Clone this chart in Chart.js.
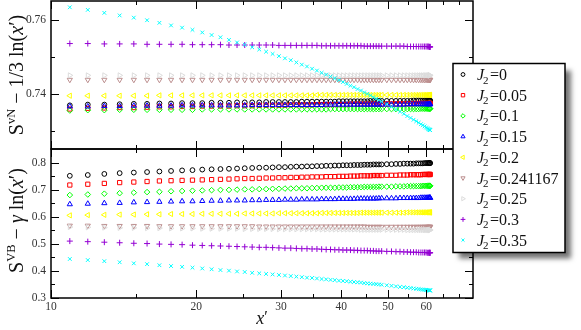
<!DOCTYPE html>
<html>
<head>
<meta charset="utf-8">
<script src="https://cdn.jsdelivr.net/npm/chart.js@4.4.1/dist/chart.umd.min.js"></script>
<style>
  html, body { margin: 0; padding: 0; background: #fff; }
  #wrap { position: relative; width: 581px; height: 330px; overflow: hidden; }
  #wrap canvas { position: absolute; left: 0; }
</style>
</head>
<body>
<div id="wrap">
  <canvas id="topChart" width="581" height="150" style="top:0"></canvas>
  <canvas id="botChart" width="581" height="182" style="top:148px"></canvas>
  <canvas id="legendCanvas" width="581" height="330" style="top:0"></canvas>
</div>
<script>
// x' positions (chord lengths), shared by every series
const xPos = [10.94, 11.92, 12.90, 13.88, 14.85, 15.82, 16.78, 17.74, 18.70, 19.65,
  20.59, 21.53, 22.46, 23.39, 24.31, 25.22, 26.13, 27.03, 27.93, 28.81,
  29.69, 30.56, 31.42, 32.27, 33.12, 33.95, 34.78, 35.60, 36.41, 37.20,
  37.99, 38.77, 39.54, 40.30, 41.04, 41.78, 42.50, 43.22, 43.92, 44.61,
  45.29, 45.95, 46.61, 47.24, 47.86, 48.49, 49.69, 50.82, 51.92, 52.93,
  53.90, 54.81, 55.67, 56.46, 57.20, 57.87, 58.48, 59.03, 59.52, 59.94,
  60.30, 60.59, 60.82, 60.98, 61.08, 61.12];

const couplings = ['0', '0.05', '0.1', '0.15', '0.2', '0.241167', '0.25', '0.3', '0.35'];

// top panel: S^vN - 1/3 ln(x')
const vnJ0 = [.7368, .7370, .7370, .7371, .7372, .7372, .7373, .7373, .7374, .7374,
  .7374, .7375, .7375, .7375, .7376, .7376, .7376, .7376, .7377, .7377,
  .7377, .7377, .7377, .7377, .7378, .7378, .7378, .7378, .7378, .7378,
  .7378, .7378, .7379, .7379, .7379, .7379, .7379, .7379, .7379, .7379,
  .7379, .7380, .7380, .7380, .7380, .7380, .7380, .7380, .7380, .7380,
  .7380, .7380, .7380, .7381, .7381, .7381, .7381, .7381, .7381, .7381,
  .7381, .7381, .7381, .7381, .7381, .7381];
const vnJ005 = [.7358, .7360, .7361, .7362, .7362, .7363, .7364, .7364, .7365, .7365,
  .7366, .7366, .7366, .7366, .7367, .7367, .7367, .7368, .7368, .7368,
  .7368, .7368, .7369, .7369, .7369, .7369, .7369, .7370, .7370, .7370,
  .7370, .7370, .7370, .7370, .7370, .7371, .7371, .7371, .7371, .7371,
  .7371, .7371, .7371, .7371, .7371, .7371, .7372, .7372, .7372, .7372,
  .7372, .7372, .7372, .7372, .7373, .7373, .7373, .7373, .7373, .7373,
  .7373, .7373, .7373, .7373, .7373, .7373];
const vnJ01 = [.7354, .7355, .7355, .7356, .7356, .7356, .7356, .7356, .7356, .7356,
  .7357, .7357, .7357, .7357, .7357, .7357, .7357, .7357, .7357, .7357,
  .7357, .7357, .7357, .7357, .7357, .7357, .7357, .7357, .7357, .7357,
  .7358, .7358, .7358, .7358, .7358, .7358, .7358, .7358, .7358, .7358,
  .7358, .7358, .7358, .7358, .7358, .7358, .7358, .7358, .7358, .7358,
  .7358, .7358, .7358, .7358, .7358, .7358, .7359, .7359, .7359, .7359,
  .7359, .7359, .7359, .7359, .7359, .7359];
const vnJ015 = [.7365, .7365, .7366, .7366, .7367, .7367, .7367, .7367, .7368, .7368,
  .7368, .7368, .7368, .7368, .7368, .7368, .7369, .7369, .7369, .7369,
  .7369, .7369, .7369, .7369, .7369, .7369, .7369, .7369, .7369, .7370,
  .7370, .7370, .7370, .7370, .7370, .7370, .7370, .7370, .7370, .7370,
  .7370, .7370, .7370, .7370, .7370, .7370, .7370, .7370, .7370, .7370,
  .7370, .7371, .7371, .7371, .7371, .7371, .7371, .7371, .7371, .7371,
  .7371, .7371, .7371, .7371, .7371, .7371];
const vnJ02 = [.7394, .7394, .7394, .7394, .7394, .7394, .7395, .7395, .7395, .7395,
  .7395, .7395, .7395, .7395, .7395, .7395, .7395, .7395, .7395, .7395,
  .7395, .7395, .7395, .7395, .7395, .7395, .7395, .7396, .7396, .7396,
  .7396, .7396, .7396, .7396, .7396, .7396, .7396, .7396, .7396, .7396,
  .7396, .7396, .7396, .7396, .7396, .7396, .7396, .7396, .7396, .7396,
  .7396, .7396, .7396, .7396, .7396, .7396, .7396, .7396, .7396, .7396,
  .7396, .7396, .7396, .7396, .7396, .7396];
const vnJ0241 = [.7437, .7437, .7437, .7437, .7437, .7437, .7437, .7437, .7437, .7437,
  .7437, .7437, .7437, .7437, .7437, .7437, .7437, .7437, .7437, .7437,
  .7437, .7437, .7437, .7437, .7437, .7437, .7437, .7437, .7437, .7437,
  .7437, .7437, .7437, .7437, .7437, .7437, .7437, .7437, .7437, .7437,
  .7437, .7437, .7437, .7437, .7437, .7437, .7437, .7437, .7437, .7437,
  .7437, .7437, .7437, .7437, .7437, .7437, .7437, .7437, .7437, .7437,
  .7437, .7437, .7437, .7437, .7437, .7437];
const vnJ025 = [.7449, .7449, .7449, .7449, .7449, .7449, .7449, .7449, .7449, .7449,
  .7449, .7449, .7449, .7449, .7449, .7449, .7449, .7449, .7449, .7449,
  .7449, .7449, .7449, .7449, .7449, .7449, .7449, .7449, .7449, .7449,
  .7449, .7449, .7449, .7449, .7449, .7449, .7449, .7449, .7449, .7449,
  .7449, .7449, .7449, .7449, .7449, .7449, .7449, .7449, .7449, .7449,
  .7449, .7449, .7449, .7449, .7449, .7449, .7449, .7449, .7449, .7449,
  .7449, .7449, .7449, .7449, .7449, .7449];
const vnJ03 = [.7535, .7535, .7534, .7534, .7534, .7533, .7533, .7533, .7533, .7532,
  .7532, .7532, .7532, .7531, .7531, .7531, .7531, .7531, .7531, .7531,
  .7530, .7530, .7530, .7530, .7530, .7530, .7530, .7530, .7529, .7529,
  .7529, .7529, .7529, .7529, .7529, .7529, .7529, .7529, .7529, .7528,
  .7528, .7528, .7528, .7528, .7528, .7528, .7528, .7528, .7528, .7528,
  .7528, .7527, .7527, .7527, .7527, .7527, .7527, .7527, .7527, .7527,
  .7527, .7527, .7526, .7526, .7526, .7526];
const vnJ035 = [.7633, .7626, .7618, .7611, .7605, .7598, .7591, .7584, .7578, .7572,
  .7565, .7558, .7552, .7545, .7538, .7532, .7525, .7519, .7513, .7507,
  .7501, .7495, .7490, .7484, .7478, .7473, .7467, .7462, .7456, .7451,
  .7446, .7441, .7436, .7431, .7426, .7421, .7417, .7412, .7408, .7403,
  .7399, .7395, .7390, .7386, .7382, .7378, .7371, .7364, .7357, .7351,
  .7345, .7339, .7334, .7329, .7325, .7321, .7317, .7314, .7311, .7308,
  .7306, .7304, .7303, .7302, .7301, .7301];

// bottom panel: S^VB - gamma ln(x')
const vbJ0 = [.751, .754, .758, .761, .763, .765, .767, .769, .771, .772,
  .774, .775, .776, .777, .778, .779, .780, .781, .781, .782,
  .783, .783, .784, .785, .785, .786, .786, .787, .787, .788,
  .788, .789, .789, .790, .790, .790, .791, .791, .791, .792,
  .792, .792, .793, .793, .793, .793, .794, .794, .795, .795,
  .796, .796, .796, .796, .797, .797, .797, .797, .798, .798,
  .798, .798, .798, .798, .798, .798];
const vbJ005 = [.717, .720, .723, .726, .728, .730, .732, .733, .734, .735,
  .736, .737, .738, .739, .740, .741, .741, .742, .743, .743,
  .744, .744, .745, .745, .746, .746, .747, .747, .747, .748,
  .748, .748, .749, .749, .749, .750, .750, .750, .751, .751,
  .751, .751, .752, .752, .752, .752, .753, .753, .753, .754,
  .754, .754, .755, .755, .755, .755, .755, .756, .756, .756,
  .756, .756, .756, .756, .756, .756];
const vbJ01 = [.680, .682, .685, .687, .689, .691, .692, .694, .695, .696,
  .697, .698, .699, .699, .700, .701, .701, .702, .702, .703,
  .703, .704, .704, .705, .705, .705, .706, .706, .707, .707,
  .707, .707, .708, .708, .708, .709, .709, .709, .709, .710,
  .710, .710, .710, .710, .711, .711, .711, .711, .712, .712,
  .712, .713, .713, .713, .713, .713, .713, .714, .714, .714,
  .714, .714, .714, .714, .714, .714];
const vbJ015 = [.646, .648, .650, .651, .653, .654, .655, .656, .657, .657,
  .658, .659, .659, .660, .660, .660, .661, .661, .662, .662,
  .662, .663, .663, .663, .664, .664, .664, .664, .665, .665,
  .665, .665, .666, .666, .666, .666, .666, .667, .667, .667,
  .667, .667, .667, .667, .668, .668, .668, .668, .668, .669,
  .669, .669, .669, .669, .669, .669, .670, .670, .670, .670,
  .670, .670, .670, .670, .670, .670];
const vbJ02 = [.605, .606, .607, .608, .608, .609, .609, .610, .610, .610,
  .611, .611, .611, .611, .611, .612, .612, .612, .612, .612,
  .613, .613, .613, .613, .613, .613, .613, .613, .614, .614,
  .614, .614, .614, .614, .614, .614, .614, .614, .615, .615,
  .615, .615, .615, .615, .615, .615, .615, .615, .615, .615,
  .615, .616, .616, .616, .616, .616, .616, .616, .616, .616,
  .616, .616, .616, .616, .616, .616];
const vbJ0241 = [.567, .567, .566, .566, .566, .566, .565, .565, .565, .565,
  .565, .565, .565, .565, .565, .565, .565, .564, .564, .564,
  .564, .564, .564, .564, .564, .564, .564, .564, .564, .564,
  .564, .564, .564, .564, .564, .564, .564, .564, .564, .564,
  .563, .563, .563, .563, .563, .563, .563, .563, .563, .563,
  .563, .563, .563, .563, .563, .563, .563, .563, .563, .563,
  .563, .563, .563, .563, .563, .563];
const vbJ025 = [.562, .561, .560, .559, .559, .558, .558, .557, .557, .557,
  .556, .556, .556, .556, .556, .555, .555, .555, .555, .555,
  .554, .554, .554, .554, .554, .554, .554, .554, .553, .553,
  .553, .553, .553, .553, .553, .553, .553, .553, .552, .552,
  .552, .552, .552, .552, .552, .552, .552, .552, .552, .552,
  .552, .551, .551, .551, .551, .551, .551, .551, .551, .551,
  .551, .551, .551, .551, .551, .551];
const vbJ03 = [.510, .508, .506, .504, .502, .501, .499, .498, .497, .495,
  .494, .493, .492, .491, .490, .489, .488, .487, .487, .486,
  .485, .484, .484, .483, .482, .482, .481, .481, .480, .479,
  .479, .478, .478, .477, .477, .477, .476, .476, .475, .475,
  .475, .474, .474, .473, .473, .473, .472, .472, .471, .471,
  .470, .470, .469, .469, .469, .468, .468, .468, .468, .468,
  .467, .467, .467, .467, .467, .467];
const vbJ035 = [.444, .440, .436, .432, .428, .425, .421, .418, .415, .412,
  .409, .406, .403, .401, .398, .396, .393, .391, .389, .387,
  .385, .383, .381, .379, .377, .375, .374, .372, .370, .369,
  .367, .366, .364, .363, .362, .360, .359, .358, .357, .355,
  .354, .353, .352, .351, .350, .349, .347, .345, .343, .341,
  .340, .338, .337, .335, .334, .333, .332, .331, .330, .330,
  .329, .329, .328, .328, .328, .328];

// ticks
const xTicks = [10, 20, 30, 40, 50, 60];
const xMinorTicks = [15, 25, 35, 45, 55, 65, 70];
const vnTicks = [0.74, 0.76];
const vnMinorTicks = [0.73, 0.75];
const vbTicks = [0.3, 0.4, 0.5, 0.6, 0.7, 0.8];
const vbMinorTicks = [0.35, 0.45, 0.55, 0.65, 0.75];

// marker looks (xmgrace palette)
const colors = ['#000000', '#ff0000', '#00ff00', '#0000ff', '#ffff00', '#bc8f8f', '#dcdcdc', '#9400d3', '#00ffff'];
const shapes = ['circle', 'rect', 'rectRot', 'triangle', 'triangle', 'triangle', 'triangle', 'cross', 'crossRot'];
const turns = [0, 0, 0, 0, 270, 180, 90, 0, 0];
const sizes = [2.4, 3, 2.8, 3, 3, 3, 3, 3, 2.6];

const serif = "'Liberation Serif', 'DejaVu Serif', serif";

function makeDatasets(series) {
  return series.map((vals, i) => ({
    label: 'J2=' + couplings[i],
    data: xPos.map((x, k) => ({ x: x, y: vals[k] })),
    showLine: false,
    pointStyle: shapes[i],
    rotation: turns[i],
    pointRadius: sizes[i],
    pointBorderWidth: 1,
    pointBorderColor: colors[i],
    pointBackgroundColor: 'rgba(0,0,0,0)',
    borderColor: colors[i],
    order: series.length - i
  }));
}

// frame, inward ticks, tick labels and axis titles
const decor = {
  id: 'decor',
  afterDraw(chart, args, opts) {
    const ctx = chart.ctx, a = chart.chartArea;
    const xs = chart.scales.x, ys = chart.scales.y;
    ctx.save();
    ctx.strokeStyle = '#000';
    ctx.lineWidth = 1;
    ctx.beginPath();
    function xTick(v, len) {
      const px = Math.round(xs.getPixelForValue(v)) + 0.5;
      ctx.moveTo(px, a.bottom); ctx.lineTo(px, a.bottom - len);
      ctx.moveTo(px, a.top); ctx.lineTo(px, a.top + len);
    }
    function yTick(v, len) {
      const py = Math.round(ys.getPixelForValue(v)) + 0.5;
      ctx.moveTo(a.left, py); ctx.lineTo(a.left + len, py);
      ctx.moveTo(a.right, py); ctx.lineTo(a.right - len, py);
    }
    xTicks.forEach(v => xTick(v, 8));
    xMinorTicks.forEach(v => xTick(v, 4));
    opts.major.forEach(v => yTick(v, 8));
    opts.minor.forEach(v => yTick(v, 4));
    ctx.stroke();
    ctx.lineWidth = 1.5;
    ctx.strokeRect(a.left, a.top, a.right - a.left, a.bottom - a.top);

    ctx.fillStyle = '#333';
    ctx.font = '11.5px ' + serif;
    ctx.textAlign = 'right';
    ctx.textBaseline = 'middle';
    opts.major.forEach(v => ctx.fillText(v.toFixed(opts.digits), a.left - 5, ys.getPixelForValue(v)));
    if (opts.xLabels) {
      ctx.textAlign = 'center';
      ctx.textBaseline = 'top';
      xTicks.forEach(v => ctx.fillText(String(v), xs.getPixelForValue(v), a.bottom + 3));
    }
    drawRich(ctx, opts.title, 23, (a.top + a.bottom) / 2 + opts.titleShift, true);
    if (opts.xTitle) drawRich(ctx, opts.xTitle, 262, 176, false);
    ctx.restore();
  }
};

function drawRich(ctx, parts, cx, cy, vertical) {
  ctx.save();
  ctx.translate(cx, cy);
  if (vertical) ctx.rotate(-Math.PI / 2);
  let total = 0;
  parts.forEach(p => { ctx.font = p.font; p.w = ctx.measureText(p.text).width; total += p.w; });
  let x = -total / 2;
  ctx.fillStyle = '#111';
  ctx.textBaseline = 'alphabetic';
  ctx.textAlign = 'left';
  parts.forEach(p => { ctx.font = p.font; ctx.fillText(p.text, x, p.dy || 0); x += p.w; });
  ctx.restore();
}

function panelOptions(yMin, yMax, bottomRoom, decorOpts) {
  return {
    responsive: false,
    animation: false,
    devicePixelRatio: 1,
    events: [],
    layout: { autoPadding: false, padding: { left: 51, right: 108, top: 1, bottom: bottomRoom } },
    plugins: { legend: { display: false }, tooltip: { enabled: false }, decor: decorOpts },
    scales: {
      x: { type: 'logarithmic', min: 10, max: 75, bounds: 'data', display: false },
      y: { type: 'linear', min: yMin, max: yMax, display: false }
    }
  };
}

const big = '20px ' + serif, small = '12.5px ' + serif, ital = 'italic 20px ' + serif;

let topChart = new Chart(document.getElementById('topChart'), {
  type: 'scatter',
  data: { datasets: makeDatasets([vnJ0, vnJ005, vnJ01, vnJ015, vnJ02, vnJ0241, vnJ025, vnJ03, vnJ035]) },
  options: panelOptions(0.725, 0.765, 1, {
    major: vnTicks, minor: vnMinorTicks, digits: 2, titleShift: 0,
    title: [
      { text: 'S', font: big }, { text: 'vN', font: small, dy: -8 },
      { text: ' \u2212 1/3 ln(', font: big }, { text: 'x', font: ital },
      { text: '\u2032)', font: big }
    ]
  }),
  plugins: [decor]
});

let botChart = new Chart(document.getElementById('botChart'), {
  type: 'scatter',
  data: { datasets: makeDatasets([vbJ0, vbJ005, vbJ01, vbJ015, vbJ02, vbJ0241, vbJ025, vbJ03, vbJ035]) },
  options: panelOptions(0.3, 0.85, 32, {
    major: vbTicks, minor: vbMinorTicks, digits: 1, titleShift: -3, xLabels: true,
    title: [
      { text: 'S', font: big }, { text: 'VB', font: small, dy: -8 },
      { text: ' \u2212 ', font: big }, { text: '\u03B3', font: ital },
      { text: ' ln(', font: big }, { text: 'x', font: ital },
      { text: '\u2032)', font: big }
    ],
    xTitle: [{ text: 'x', font: 'italic 18px ' + serif }, { text: '\u2032', font: '16px ' + serif, dy: -2 }]
  }),
  plugins: [decor]
});

// legend box drawn over both panels
function drawLegend() {
  const ctx = document.getElementById('legendCanvas').getContext('2d');
  const bx = 453, by = 63.5, bw = 112, bh = 189;
  ctx.save();
  ctx.shadowColor = 'rgba(0,0,0,0.55)';
  ctx.shadowBlur = 5;
  ctx.shadowOffsetX = 6;
  ctx.shadowOffsetY = 6;
  ctx.fillStyle = '#fff';
  ctx.fillRect(bx, by, bw, bh);
  ctx.restore();
  ctx.strokeStyle = '#000';
  ctx.lineWidth = 1.5;
  ctx.strokeRect(bx, by, bw, bh);

  couplings.forEach((c, i) => {
    const y = 74.5 + i * 20.7;
    ctx.save();
    ctx.strokeStyle = colors[i];
    ctx.fillStyle = 'rgba(0,0,0,0)';
    ctx.lineWidth = 1;
    const opt = { pointStyle: shapes[i], radius: sizes[i] * 0.8, rotation: turns[i], borderWidth: 1 };
    if (Chart.helpers && Chart.helpers.drawPoint) {
      Chart.helpers.drawPoint(ctx, opt, 463, y);
    } else {
      ctx.beginPath(); ctx.arc(463, y, 2, 0, Math.PI * 2); ctx.stroke();
    }
    ctx.restore();
    ctx.fillStyle = '#111';
    ctx.textBaseline = 'alphabetic';
    ctx.font = 'italic 16px ' + serif;
    ctx.fillText('J', 477, y + 5.5);
    ctx.font = '11px ' + serif;
    ctx.fillText('2', 483, y + 9);
    ctx.font = '16px ' + serif;
    ctx.fillText('=' + c, 490, y + 5.5);
  });
}
drawLegend();
</script>
</body>
</html>
